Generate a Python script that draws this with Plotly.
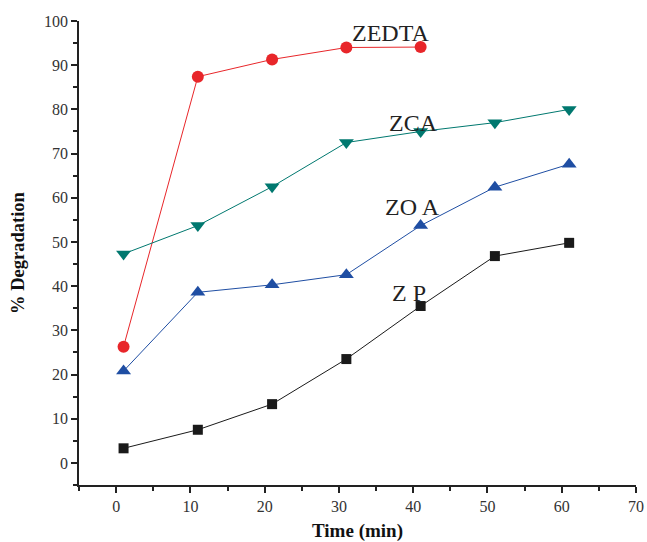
import plotly.graph_objects as go

time_min = [1, 11, 21, 31, 41, 51, 61]
zedta = [26.3, 87.4, 91.3, 94.0, 94.1]
zca = [47.3, 53.7, 62.5, 72.5, 75.0, 77.0, 80.0]
zoa = [20.8, 38.6, 40.3, 42.6, 53.7, 62.4, 67.6]
zp = [3.3, 7.5, 13.3, 23.5, 35.5, 46.8, 49.8]

series_names = ["ZEDTA", "ZCA", "ZO A", "Z P"]
label_x = [37.0, 40.0, 39.9, 39.4]
label_y = [97.3, 76.9, 57.9, 38.5]

x_ticks = [0, 10, 20, 30, 40, 50, 60, 70]
y_ticks = [0, 10, 20, 30, 40, 50, 60, 70, 80, 90, 100]

fig = go.Figure()
styles = [
    (zedta, "#e8262a", "circle", 12),
    (zca, "#00786f", "triangle-down", 13),
    (zoa, "#1f4ea3", "triangle-up", 13),
    (zp, "#1a1a1a", "square", 10),
]
for (vals, col, sym, sz), name in zip(styles, series_names):
    fig.add_trace(go.Scatter(
        x=time_min[:len(vals)], y=vals, mode="lines+markers", name=name,
        line=dict(color=col, width=1),
        marker=dict(color=col, symbol=sym, size=sz),
        showlegend=False,
    ))

for name, lx, ly in zip(series_names, label_x, label_y):
    fig.add_annotation(x=lx, y=ly, text=name, showarrow=False,
                       font=dict(family="Liberation Serif", size=24, color="#222"))

axis_common = dict(
    showline=True, linecolor="#222", linewidth=1.5,
    ticks="outside", ticklen=6, tickwidth=1.5, tickcolor="#222",
    showgrid=False, zeroline=False, automargin=False,
    ticklabeloverflow="allow",
    tickfont=dict(family="Liberation Serif", size=16, color="#333"),
    minor=dict(ticks="outside", ticklen=4, tickwidth=1.5, tickcolor="#222"),
)
fig.update_xaxes(range=[-5, 70], tickvals=x_ticks, minor_dtick=5,
                 title=dict(text="<b>Time (min)</b>", standoff=14,
                            font=dict(family="Liberation Serif", size=19, color="#111")),
                 **axis_common)
fig.update_yaxes(range=[-5, 100], tickvals=y_ticks, minor_dtick=5,
                 title=dict(text="<b>% Degradation</b>", standoff=15,
                            font=dict(family="Liberation Serif", size=18.5, color="#111")),
                 **axis_common)

fig.update_layout(
    width=647, height=542,
    margin=dict(l=79, r=11, t=21, b=57),
    plot_bgcolor="white", paper_bgcolor="white",
)
fig.write_html(
    "out.html",
    config={"displayModeBar": False},
    post_script="document.body.style.margin='0';document.body.style.overflow='hidden';",
)
